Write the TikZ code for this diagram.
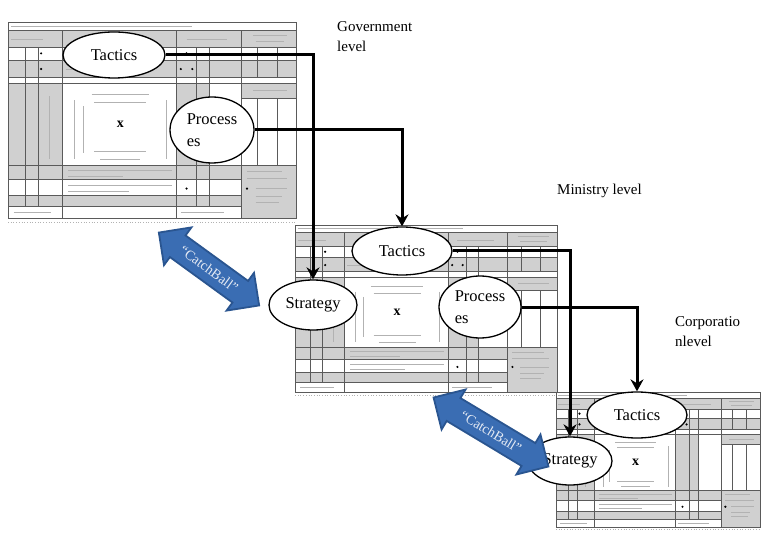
\documentclass[tikz,border=0pt]{standalone}
\usepackage{fontspec}
\setmainfont{Liberation Serif}
\usetikzlibrary{positioning,arrows.meta,shapes.geometric,shapes.arrows}
\definecolor{cellgray}{HTML}{D0D0D0}
\definecolor{gridgray}{HTML}{5A5A5A}
\definecolor{ballblue}{HTML}{3A6DB3}
\definecolor{balledge}{HTML}{2A5590}
\definecolor{balltext}{HTML}{E4EAF4}
\tikzset{
    stage/.style = {
        draw,
        shape=ellipse,
        fill=white,
        line width=1.3pt,
        inner sep=0pt,
        font=\fontsize{16.5}{22}\selectfont
    },
    level/.style = {
        align=left,
        inner sep=0pt,
        font=\fontsize{15}{20}\selectfont
    },
    link/.style = {
        draw,
        line width=3pt
    },
    catchball/.style = {
        shape=double arrow,
        fill=ballblue,
        draw=balledge,
        line width=1.8pt,
        text=balltext,
        font=\fontsize{14}{15}\selectfont,
        double arrow head extend=10pt,
        inner ysep=7.5pt,
        inner xsep=1pt,
        minimum height=#1
    },
    gridline/.style = {draw=gridgray, line width=0.7pt},
    textline/.style = {draw=gray!60, line width=0.7pt},
    >={Stealth[length=12pt,width=13pt,inset=4pt]},
}

% one sheet of the planning form, in unit coordinates
\newcommand{\formsheet}[5]{%
  \begin{scope}[shift={(#2,#3)}, x=#4pt, y=-#5pt]
    \fill[white] (0,0) rectangle (1,1);
    \fill[cellgray] (0,.045) rectangle (1,.13);
    \fill[cellgray] (0,.195) rectangle (1,.28);
    \fill[cellgray] (0,.315) rectangle (.19,.73);
    \fill[cellgray] (.585,.315) rectangle (.70,.73);
    \fill[cellgray] (.81,.315) rectangle (1,.39);
    \fill[cellgray] (0,.73) rectangle (.81,.805);
    \fill[cellgray] (0,.885) rectangle (.81,.94);
    \fill[cellgray] (.81,.73) rectangle (1,1);
    % grid
    \path[gridline] (0,0) rectangle (1,1);
    \path[gridline] (0,.045) -- (1,.045) (0,.13) -- (1,.13) (0,.195) -- (1,.195)
        (0,.28) -- (1,.28) (0,.315) -- (1,.315) (.81,.39) -- (1,.39);
    \path[gridline] (0,.73) -- (1,.73) (0,.805) -- (.81,.805) (0,.885) -- (.81,.885) (0,.94) -- (.81,.94);
    \path[gridline] (.06,.13) -- (.06,.94) (.105,.13) -- (.105,.94) (.19,.045) -- (.19,1)
        (.585,.045) -- (.585,1) (.655,.13) -- (.655,.94) (.70,.13) -- (.70,.94) (.81,.045) -- (.81,1);
    \path[gridline] (.865,.13) -- (.865,.28) (.935,.13) -- (.935,.28) (.865,.39) -- (.865,.73) (.935,.39) -- (.935,.73);
    % small print
    \path[textline] (.01,.022) -- (.64,.022) (.01,.09) -- (.12,.09) (.62,.09) -- (.76,.09)
        (.85,.07) -- (.97,.07) (.86,.10) -- (.96,.10) (.20,.24) -- (.32,.24) (.85,.35) -- (.97,.35);
    \path[textline] (.29,.37) -- (.49,.37) (.30,.41) -- (.48,.41) (.30,.66) -- (.48,.66) (.32,.70) -- (.46,.70)
        (.23,.40) -- (.23,.70) (.26,.43) -- (.26,.67) (.55,.40) -- (.55,.70) (.145,.38) -- (.145,.70);
    \path[textline] (.21,.755) -- (.57,.755) (.21,.785) -- (.40,.785) (.21,.835) -- (.57,.835) (.21,.865) -- (.42,.865)
        (.83,.76) -- (.95,.76) (.83,.80) -- (.97,.80) (.86,.85) -- (.97,.85) (.86,.89) -- (.95,.89) (.86,.92) -- (.94,.92)
        (.02,.97) -- (.15,.97) (.60,.97) -- (.75,.97);
    \path[textline, dotted] (0,1.02) -- (1,1.02);
    \fill (.115,.16) circle[radius=1.2pt] (.115,.24) circle[radius=1.2pt] (.62,.16) circle[radius=1.2pt]
        (.60,.24) circle[radius=1.2pt] (.64,.24) circle[radius=1.2pt] (.62,.85) circle[radius=1.2pt]
        (.83,.85) circle[radius=1.2pt];
    \node[font=\bfseries\fontsize{14}{14}\selectfont] (#1-x) at (.39,.52) {x};
  \end{scope}}

\begin{document}
\begin{tikzpicture}[x=1pt, y=-1pt]
    \useasboundingbox (0,0) rectangle (762,534);

    \formsheet{gov}{8}{22}{288}{196}
    \formsheet{min}{295}{225}{262}{167}
    \formsheet{corp}{556}{392}{204}{135}

    \node[level, anchor=north west] (govlabel) at (337,21) {Government\\level};
    \node[level, anchor=base west] (minlabel) at (557,195) {Ministry level};
    \node[level, anchor=north west] (corplabel) at (675,316) {Corporatio\\nlevel};

    \node[stage, minimum width=102pt, minimum height=46pt] (tac1) at (114,55) {Tactics};
    \node[stage, minimum width=84pt, minimum height=66pt, align=left] (pro1) at (212,130) {Process\\es};
    \node[stage, minimum width=100pt, minimum height=48pt] (tac2) at (402,251) {Tactics};
    \node[stage, minimum width=88pt, minimum height=50pt] (str2) at (313,305) {Strategy};
    \node[stage, minimum width=82pt, minimum height=62pt, align=left] (pro2) at (480,307) {Process\\es};
    \node[stage, minimum width=100pt, minimum height=46pt] (tac3) at (637,415) {Tactics};
    \node[stage, minimum width=84pt, minimum height=48pt] (str3) at (570,461) {Strategy};

    \path[link, ->] (tac1.east) -| (str2.north);
    \path[link, ->] (pro1.east) -| (tac2.north);
    \path[link, ->] (tac2.east) -| (str3.north);
    \path[link, ->] (pro2.east) -| (tac3.north);

    \node[catchball=124pt, rotate=-36] (ball1) at (209,269) {“CatchBall”};
    \node[catchball=134pt, rotate=-31] (ball2) at (491,432) {“CatchBall”};
\end{tikzpicture}
\end{document}
